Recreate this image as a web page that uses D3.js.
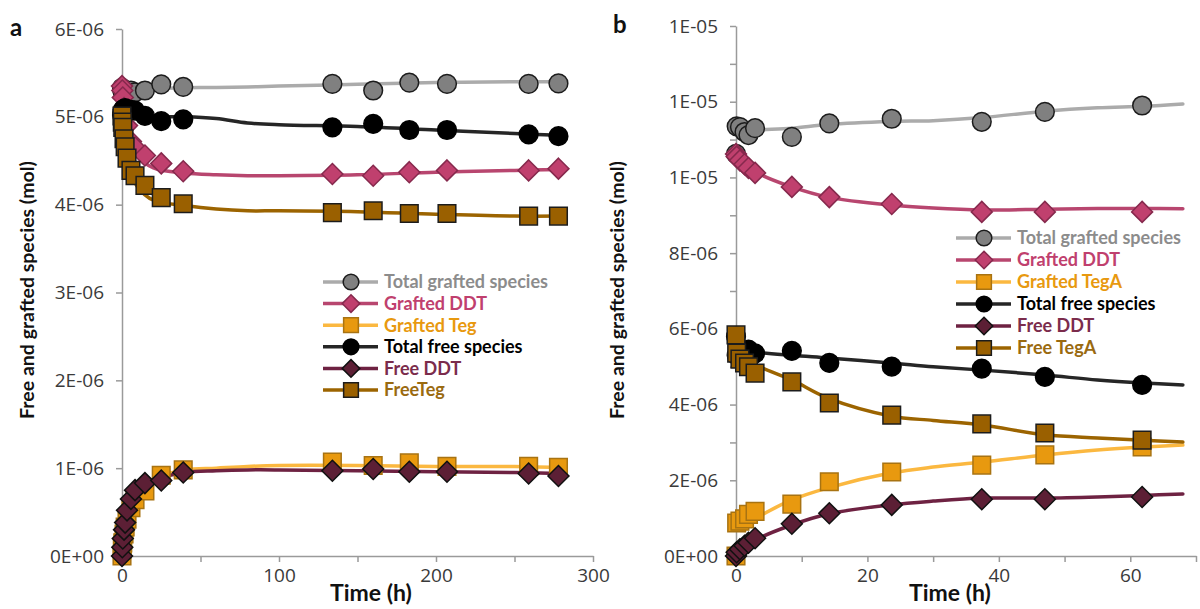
<!DOCTYPE html>
<html>
<head>
<meta charset="utf-8">
<title>Free and grafted species vs time</title>
<script src="https://d3js.org/d3.v7.min.js"></script>
<style>
    body { margin: 0; background: #fff; font-family: Lato, "Open Sans", sans-serif; }
    svg { display: block; }
    .axis path, .axis line { stroke: #9a9a9a; stroke-width: 1.5px; }
    .title { font-family: Lato, sans-serif; font-weight: bold; fill: #111; }
    .legend text { font-family: Lato, sans-serif; font-weight: bold; font-size: 18px; }
</style>
</head>
<body>
<svg id="chart" width="1200" height="609"></svg>
<script>
// ---- series names (legend order) ----
const seriesA = ["Total grafted species", "Grafted DDT", "Grafted Teg", "Total free species", "Free DDT", "FreeTeg"];
const seriesB = ["Total grafted species", "Grafted DDT", "Grafted TegA", "Total free species", "Free DDT", "Free TegA"];

// ---- panel a : measured points (x1e-6 mol) ----
const timeA = [0, 0.2, 0.5, 1.3, 2, 3.2, 5.7, 8.3, 14.6, 25, 39, 134, 160, 183, 207, 259, 278];
const totGraftA = [5.33, 5.30, 5.28, 5.30, 5.27, 5.28, 5.30, 5.28, 5.30, 5.37, 5.34, 5.375, 5.30, 5.39, 5.375, 5.375, 5.38];
const graftDdtA = [5.35, 5.30, 5.22, 5.10, 5.00, 4.90, 4.72, 4.65, 4.56, 4.47, 4.38, 4.35, 4.33, 4.37, 4.39, 4.39, 4.41];
const graftTegA = [0, 0.08, 0.15, 0.25, 0.33, 0.42, 0.55, 0.64, 0.74, 0.92, 0.98, 1.07, 1.03, 1.06, 1.02, 1.02, 1.01];
const totFreeA = [5.02, 5.05, 5.08, 5.09, 5.10, 5.08, 5.08, 5.07, 5.01, 4.95, 4.97, 4.88, 4.92, 4.85, 4.85, 4.80, 4.78];
const freeDdtA = [0, 0.10, 0.20, 0.30, 0.38, 0.52, 0.65, 0.75, 0.83, 0.86, 0.95, 0.97, 0.99, 0.96, 0.96, 0.94, 0.91];
const freeTegA = [5.01, 4.94, 4.88, 4.75, 4.66, 4.53, 4.39, 4.33, 4.22, 4.08, 4.01, 3.91, 3.93, 3.90, 3.90, 3.87, 3.87];

// ---- panel a : fitted curves ----
const fitTimeA = [0, 2, 5, 10, 20, 40, 60, 80, 100, 150, 200, 250, 278];
const fitTotGraftA = [5.30, 5.30, 5.31, 5.31, 5.32, 5.33, 5.335, 5.34, 5.35, 5.37, 5.39, 5.40, 5.40];
const fitGraftDdtA = [5.35, 5.00, 4.75, 4.55, 4.42, 4.36, 4.34, 4.33, 4.33, 4.34, 4.37, 4.39, 4.40];
const fitGraftTegA = [0, 0.35, 0.55, 0.72, 0.88, 0.98, 1.00, 1.02, 1.03, 1.03, 1.02, 1.02, 1.01];
const fitTotFreeA = [5.10, 5.07, 5.04, 5.01, 5.00, 5.00, 4.98, 4.93, 4.91, 4.89, 4.85, 4.81, 4.79];
const fitFreeDdtA = [0, 0.38, 0.60, 0.76, 0.86, 0.95, 0.97, 0.98, 0.98, 0.97, 0.96, 0.95, 0.94];
const fitFreeTegA = [5.00, 4.70, 4.40, 4.20, 4.05, 3.99, 3.95, 3.93, 3.93, 3.92, 3.89, 3.87, 3.87];

// ---- panel b : measured points (x1e-6 mol) ----
const timeB = [0, 0.1, 0.6, 1.3, 1.9, 2.9, 8.5, 14.2, 23.7, 37.4, 47, 61.8];
const totGraftB = [10.62, 11.35, 11.33, 11.20, 11.12, 11.30, 11.07, 11.43, 11.55, 11.47, 11.73, 11.90];
const graftDdtB = [10.62, 10.55, 10.45, 10.35, 10.25, 10.12, 9.75, 9.48, 9.30, 9.09, 9.09, 9.09];
const graftTegB = [0, 0.87, 0.92, 0.98, 1.10, 1.18, 1.37, 1.96, 2.22, 2.40, 2.67, 2.88];
const totFreeB = [5.80, 5.30, 5.30, 5.35, 5.45, 5.35, 5.42, 5.10, 5.00, 4.95, 4.73, 4.52];
const freeDdtB = [0, 0.10, 0.18, 0.27, 0.35, 0.47, 0.85, 1.13, 1.35, 1.50, 1.50, 1.56];
const freeTegB = [5.84, 5.36, 5.20, 5.10, 5.00, 4.83, 4.60, 4.04, 3.72, 3.49, 3.25, 3.06];

// ---- panel b : fitted curves ----
const fitTimeB = [0, 3, 8.5, 14, 23.5, 30, 37.5, 47, 55, 62, 68];
const fitTotGraftB = [11.20, 11.25, 11.30, 11.40, 11.48, 11.50, 11.58, 11.75, 11.84, 11.88, 11.94];
const fitGraftDdtB = [10.62, 10.15, 9.75, 9.48, 9.27, 9.19, 9.14, 9.16, 9.18, 9.18, 9.17];
const fitGraftTegB = [0.69, 1.00, 1.48, 1.80, 2.19, 2.35, 2.48, 2.67, 2.80, 2.88, 2.93];
const fitTotFreeB = [5.49, 5.39, 5.30, 5.23, 5.10, 5.00, 4.91, 4.78, 4.65, 4.57, 4.52];
const fitFreeDdtB = [0, 0.42, 0.82, 1.11, 1.35, 1.45, 1.53, 1.53, 1.56, 1.60, 1.64];
const fitFreeTegB = [5.44, 5.05, 4.65, 4.17, 3.70, 3.58, 3.46, 3.20, 3.12, 3.06, 3.01];

// ---- tick labels ----
const xTicksA = [0, 50, 100, 150, 200, 250, 300];
const xLabelsA = ["0", "", "100", "", "200", "", "300"];
const yTicksA = [0, 1e-6, 2e-6, 3e-6, 4e-6, 5e-6, 6e-6];
const yLabelsA = ["0E+00", "1E-06", "2E-06", "3E-06", "4E-06", "5E-06", "6E-06"];
const xTicksB = [0, 10, 20, 30, 40, 50, 60, 70];
const xLabelsB = ["0", "", "20", "", "40", "", "60", ""];
const yTicksB = [0, 1e-6, 2e-6, 3e-6, 4e-6, 5e-6, 6e-6, 7e-6, 8e-6, 9e-6, 1e-5, 1.1e-5, 1.2e-5, 1.3e-5, 1.4e-5];
const yLabelsB = ["0E+00", "", "2E-06", "", "4E-06", "", "6E-06", "", "8E-06", "", "1E-05", "", "1E-05", "", "1E-05"];

// square turned 45deg, like the excel diamond marker
const diamond = {
    draw(ctx, size) {
        const r = Math.sqrt(size / 2);
        ctx.moveTo(0, -r);
        ctx.lineTo(r, 0);
        ctx.lineTo(0, r);
        ctx.lineTo(-r, 0);
        ctx.closePath();
    }
};

// style for each series, same order as legends
const styles = [
    { line: "#ababab", fill: "#808080", stroke: "#1c1c1c", text: "#8c8c8c", shape: d3.symbolCircle, size: 275 },
    { line: "#b8466f", fill: "#c0406e", stroke: "#86294d", text: "#c0406e", shape: diamond, size: 220 },
    { line: "#fbb840", fill: "#e8990f", stroke: "#a87312", text: "#e8990f", shape: d3.symbolSquare, size: 310 },
    { line: "#262626", fill: "#000000", stroke: "#000000", text: "#000000", shape: d3.symbolCircle, size: 275 },
    { line: "#6e2242", fill: "#5c1f35", stroke: "#111111", text: "#7b2c4c", shape: diamond, size: 220 },
    { line: "#9c6400", fill: "#9a6000", stroke: "#1c1c1c", text: "#9a6a10", shape: d3.symbolSquare, size: 310 }
];

const svg = d3.select("#chart");

function styleTicks(sel) {
    sel.selectAll("text")
        .style("font-family", "'Open Sans', sans-serif")
        .style("font-size", "19px")
        .style("fill", "#3a3a3a");
}

function drawPanel(cfg) {
    const x = d3.scaleLinear().domain(cfg.xDomain).range(cfg.xRange);
    const y = d3.scaleLinear().domain(cfg.yDomain).range(cfg.yRange);
    const g = svg.append("g");

    g.append("g")
        .attr("class", "axis")
        .attr("transform", `translate(0,${cfg.yRange[0]})`)
        .call(d3.axisBottom(x).tickValues(cfg.xTicks)
            .tickFormat((d, i) => cfg.xLabels[i]).tickSize(6).tickSizeOuter(0).tickPadding(7))
        .call(styleTicks);

    g.append("g")
        .attr("class", "axis")
        .attr("transform", `translate(${cfg.xRange[0]},0)`)
        .call(d3.axisLeft(y).tickValues(cfg.yTicks)
            .tickFormat((d, i) => cfg.yLabels[i]).tickSize(6).tickSizeOuter(0).tickPadding(12))
        .call(styleTicks);

    // fitted curves
    const line = d3.line()
        .x(d => x(d[0]))
        .y(d => y(d[1] * 1e-6))
        .curve(d3.curveCatmullRom.alpha(0.5));
    cfg.fits.forEach((vals, i) => {
        g.append("path")
            .datum(cfg.fitTime.map((t, j) => [t, vals[j]]))
            .attr("fill", "none")
            .attr("stroke", styles[i].line)
            .attr("stroke-width", 3.5)
            .attr("stroke-linecap", "round")
            .attr("d", line);
    });

    // measured points
    cfg.points.forEach((vals, i) => {
        const s = styles[i];
        g.append("g").selectAll("path")
            .data(cfg.time.map((t, j) => [t, vals[j]]))
            .join("path")
            .attr("transform", d => `translate(${x(d[0])},${y(d[1] * 1e-6)})`)
            .attr("d", d3.symbol().type(s.shape).size(s.size))
            .attr("fill", s.fill)
            .attr("stroke", s.stroke)
            .attr("stroke-width", 1.5);
    });

    // axis titles
    g.append("text")
        .attr("class", "title")
        .attr("x", cfg.xTitleX).attr("y", 601)
        .attr("text-anchor", "middle")
        .style("font-size", "23px")
        .text("Time (h)");

    g.append("text")
        .attr("class", "title")
        .attr("transform", `translate(${cfg.yTitleX},290) rotate(-90)`)
        .attr("text-anchor", "middle")
        .style("font-size", "19.5px")
        .text("Free and grafted species (mol)");

    g.append("text")
        .attr("class", "title")
        .attr("x", cfg.labelX).attr("y", cfg.labelY)
        .style("font-size", "24px")
        .text(cfg.label);

    // legend
    const lg = g.append("g").attr("class", "legend");
    cfg.names.forEach((name, i) => {
        const ry = cfg.legY + i * cfg.legStep;
        const row = lg.append("g");
        row.append("line")
            .attr("x1", cfg.legX).attr("x2", cfg.legX + 55)
            .attr("y1", ry).attr("y2", ry)
            .attr("stroke", styles[i].line)
            .attr("stroke-width", 3.5);
        row.append("path")
            .attr("transform", `translate(${cfg.legX + 28},${ry})`)
            .attr("d", d3.symbol().type(styles[i].shape).size(styles[i].size * 0.7))
            .attr("fill", styles[i].fill)
            .attr("stroke", styles[i].stroke)
            .attr("stroke-width", 1.5);
        row.append("text")
            .attr("x", cfg.legX + 61).attr("y", ry)
            .attr("dy", "0.35em")
            .attr("fill", styles[i].text)
            .text(name);
    });
}

drawPanel({
    xDomain: [0, 300], xRange: [122, 593],
    yDomain: [0, 6e-6], yRange: [556, 29],
    xTicks: xTicksA, xLabels: xLabelsA, yTicks: yTicksA, yLabels: yLabelsA,
    time: timeA, points: [totGraftA, graftDdtA, graftTegA, totFreeA, freeDdtA, freeTegA],
    fitTime: fitTimeA, fits: [fitTotGraftA, fitGraftDdtA, fitGraftTegA, fitTotFreeA, fitFreeDdtA, fitFreeTegA],
    names: seriesA, legX: 323, legY: 282, legStep: 21.6,
    xTitleX: 371, yTitleX: 34, label: "a", labelX: 10, labelY: 36
});

drawPanel({
    xDomain: [0, 70], xRange: [736, 1196],
    yDomain: [0, 1.4e-5], yRange: [556, 26],
    xTicks: xTicksB, xLabels: xLabelsB, yTicks: yTicksB, yLabels: yLabelsB,
    time: timeB, points: [totGraftB, graftDdtB, graftTegB, totFreeB, freeDdtB, freeTegB],
    fitTime: fitTimeB, fits: [fitTotGraftB, fitGraftDdtB, fitGraftTegB, fitTotFreeB, fitFreeDdtB, fitFreeTegB],
    names: seriesB, legX: 956, legY: 238, legStep: 22,
    xTitleX: 950, yTitleX: 624, label: "b", labelX: 613, labelY: 33
});
</script>
</body>
</html>
